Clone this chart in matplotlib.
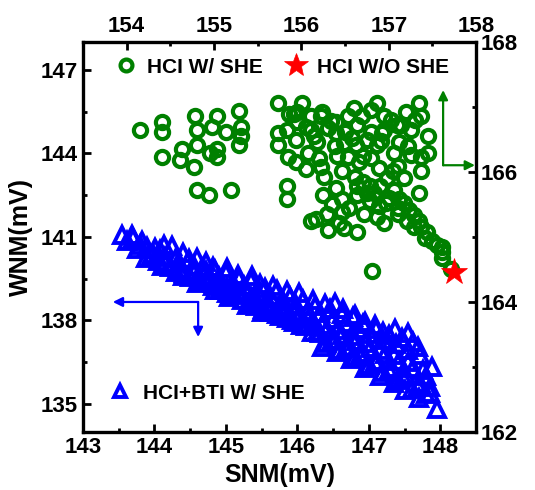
import matplotlib
matplotlib.use("Agg")
import matplotlib.pyplot as plt
from matplotlib.ticker import MultipleLocator
from matplotlib.lines import Line2D

plt.rcParams["font.family"] = ["Liberation Sans", "DejaVu Sans"]
plt.rcParams["font.weight"] = "bold"

# HCI + BTI with self-heating (bottom SNM axis / left WNM axis)
blue_snm = [
    143.55, 143.69, 143.82, 144.01, 144.13, 144.25, 144.40, 144.60, 144.72, 144.85,
    145.02, 145.17, 145.37, 145.48, 145.66, 145.86, 146.02, 146.22, 146.39, 146.53,
    146.64, 146.80, 146.95, 147.08, 147.20, 147.36, 147.54, 147.69,
    143.70, 143.90, 144.08, 144.30, 144.48, 144.66, 144.82, 145.00, 145.18, 145.35,
    145.55, 145.72, 145.90, 146.08, 146.25, 146.45, 146.62, 146.78, 146.92, 147.10,
    147.28, 147.46, 147.62,
    143.62, 143.80, 143.98, 144.15, 144.35, 144.55, 144.72, 144.90, 145.08, 145.25,
    145.45, 145.62, 145.80, 145.98, 146.15, 146.32, 146.50, 146.68, 146.85, 147.02,
    147.20, 147.38, 147.55, 147.72,
    143.75, 143.95, 144.15, 144.35, 144.55, 144.75, 144.95, 145.15, 145.35, 145.55,
    145.75, 145.95, 146.15, 146.35, 146.55, 146.75, 146.95, 147.15, 147.35, 147.55,
    147.75,
    143.88, 144.05, 144.22, 144.42, 144.62, 144.82, 145.02, 145.22, 145.42, 145.62,
    145.82, 146.02, 146.22, 146.42, 146.62, 146.82, 147.02, 147.22, 147.42, 147.62,
    147.80,
    144.10, 144.30, 144.50, 144.72, 144.92, 145.12, 145.32, 145.52, 145.72, 145.92,
    146.12, 146.32, 146.52, 146.72, 146.92, 147.12, 147.32, 147.52, 147.72,
    144.40, 144.62, 144.82, 145.02, 145.22, 145.42, 145.62, 145.85, 146.05, 146.28,
    146.48, 146.68, 146.88, 147.08, 147.28, 147.48, 147.68, 147.85,
    144.60, 144.85, 145.05, 145.30, 145.50, 145.75, 145.95, 146.20, 146.40, 146.60,
    146.80, 147.00, 147.20, 147.40, 147.60, 147.80, 147.95,
    146.35, 146.55, 146.75, 146.95, 147.15, 147.35, 147.50, 147.70, 147.85, 147.88,
]
blue_wnm = [
    141.07, 141.07, 140.85, 140.60, 140.72, 140.68, 140.42, 140.24, 140.10, 139.81,
    139.90, 139.63, 139.59, 139.30, 139.25, 139.05, 138.98, 138.72, 138.58, 138.62,
    138.40, 138.20, 137.96, 137.85, 137.60, 137.70, 137.53, 137.06,
    140.95, 140.62, 140.52, 140.25, 140.20, 139.88, 139.92, 139.70, 139.50, 139.42,
    139.15, 139.08, 138.85, 138.75, 138.50, 138.42, 138.22, 138.12, 137.88, 137.68,
    137.48, 137.35, 137.22,
    140.85, 140.70, 140.40, 140.28, 140.10, 139.95, 139.78, 139.55, 139.35, 139.25,
    139.00, 138.88, 138.70, 138.55, 138.35, 138.25, 138.05, 137.90, 137.70, 137.50,
    137.30, 137.15, 136.95, 136.75,
    140.55, 140.30, 140.05, 139.85, 139.70, 139.50, 139.25, 139.05, 138.85, 138.62,
    138.45, 138.25, 138.05, 137.85, 137.65, 137.45, 137.20, 136.95, 136.75, 136.50,
    136.20,
    140.25, 140.12, 139.92, 139.72, 139.60, 139.35, 139.18, 138.95, 138.75, 138.52,
    138.32, 138.12, 137.92, 137.70, 137.48, 137.25, 137.02, 136.80, 136.55, 136.30,
    136.00,
    139.95, 139.75, 139.55, 139.40, 139.10, 138.90, 138.65, 138.40, 138.22, 138.00,
    137.80, 137.55, 137.30, 137.05, 136.82, 136.55, 136.30, 136.05, 135.75,
    139.60, 139.45, 139.22, 139.00, 138.75, 138.50, 138.30, 138.08, 137.85, 137.58,
    137.30, 137.00, 136.75, 136.50, 136.22, 135.95, 135.65, 135.40,
    139.35, 139.10, 138.85, 138.55, 138.30, 138.15, 137.95, 137.60, 137.20, 136.95,
    136.70, 136.40, 136.15, 135.85, 135.55, 135.35, 134.80,
    137.05, 136.85, 136.60, 136.30, 136.00, 135.75, 135.50, 135.20, 135.60, 136.34,
]

# HCI with self-heating (top SNM axis / right WNM axis)
green_snm = [
    154.15, 154.40, 154.41, 154.78, 155.03, 155.29, 154.81, 154.98, 155.14, 155.31,
    155.31, 155.29, 154.40, 154.63, 154.61, 154.80, 154.95, 155.04, 155.04, 154.77,
    154.80, 154.94, 155.20,
    155.73, 156.01, 155.86, 155.73, 155.73, 155.85, 155.94, 155.84, 155.84, 155.95,
    156.11, 156.23, 156.11, 155.95, 155.94, 156.18, 156.24, 156.40, 156.40, 156.53,
    156.69, 156.86, 156.95, 156.80, 156.63, 156.86, 156.95, 157.12, 157.09, 157.26,
    157.35, 157.37, 157.26, 157.37, 157.37, 157.18, 157.35, 156.23, 156.26, 156.40,
    156.46, 156.64, 156.64, 156.78, 156.53, 156.66, 156.80, 156.89, 156.97, 156.86,
    156.72, 156.46, 156.43, 156.30, 156.17, 156.11, 156.64, 157.10, 157.21, 157.37,
    157.41, 157.61, 157.61, 156.81, 156.29, 156.49, 156.83, 157.10, 157.29, 157.71,
    155.84, 156.64, 156.34, 156.38, 156.49, 156.07, 156.41, 156.70, 156.47, 156.61,
    155.92, 157.10, 156.98, 156.70, 156.91, 157.06, 157.14,
    157.06, 157.12, 157.18, 157.23, 157.29, 157.35, 157.44, 157.49, 157.55, 157.61,
    156.78, 156.89,
    156.05, 156.15, 156.30, 156.50, 156.58, 156.75, 156.92, 157.02, 157.20, 157.22,
    157.05, 156.90, 156.75, 156.55, 156.35, 156.25, 156.60, 156.80, 157.30, 156.20,
    156.05, 157.45, 157.45, 157.00, 156.95,
]
green_wnm = [
    166.64, 166.77, 166.61, 166.87, 166.87, 166.94, 166.64, 166.69, 166.61, 166.69,
    166.56, 166.41, 166.23, 166.36, 166.18, 166.41, 166.29, 166.36, 166.23, 166.07,
    165.73, 165.65, 165.73,
    167.06, 167.06, 166.90, 166.60, 166.41, 166.23, 166.15, 165.79, 165.59, 166.92,
    166.87, 166.87, 166.64, 166.77, 166.49, 166.46, 166.92, 166.60, 166.77, 166.87,
    166.87, 167.06, 166.87, 166.61, 166.41, 166.41, 166.64, 166.46, 166.72, 166.64,
    167.06, 166.87, 166.26, 166.23, 166.02, 165.90, 165.67, 166.07, 165.92, 165.75,
    165.59, 165.79, 165.64, 165.79, 166.23, 166.15, 166.21, 166.06, 165.52, 165.30,
    165.36, 165.38, 165.21, 165.10, 165.28, 165.25, 165.07, 165.44, 165.25, 165.15,
    164.98, 164.84, 164.68, 164.48, 165.36, 165.13, 165.67, 165.36, 165.15, 164.51,
    166.64, 166.72, 166.78, 166.40, 166.44, 166.29, 166.24, 166.24, 166.02, 165.93,
    166.90, 166.09, 165.90, 165.85, 166.47, 166.29, 166.72,
    165.72, 165.59, 165.52, 165.41, 165.33, 165.25, 165.07, 164.94, 164.87, 164.76,
    165.56, 165.48,
    166.70, 166.55, 166.68, 166.62, 166.52, 166.50, 166.60, 166.80, 166.92, 166.40,
    166.02, 165.78, 165.68, 165.45, 165.50, 165.65, 166.98, 166.95, 166.80, 166.22,
    166.05, 166.30, 166.55, 165.60, 165.22,
]

# HCI without self-heating
star_snm = [157.75]
star_wnm = [164.46]

labels = ["HCI W/ SHE", "HCI W/O SHE", "HCI+BTI W/ SHE"]

GREEN = "#008000"
BLUE = "#0000FF"
RED = "#FF0000"

fig = plt.figure(figsize=(5.35, 4.9), dpi=100)
rect = [0.155, 0.119, 0.735, 0.795]
ax = fig.add_axes(rect)
ax2 = fig.add_axes(rect, frameon=False)
ax2.patch.set_visible(False)

circle_kw = dict(ls="none", marker="o", ms=9.5, mfc="none", mec=GREEN, mew=3.0)
tri_kw = dict(ls="none", marker="^", ms=11, mfc="none", mec=BLUE, mew=2.8)
star_kw = dict(ls="none", marker="*", ms=20, mfc=RED, mec=RED, mew=0.5)

ax.plot(blue_snm, blue_wnm, **tri_kw)
ax2.plot(green_snm, green_wnm, **circle_kw)
ax2.plot(star_snm, star_wnm, **star_kw)

# bottom / left scales
ax.set_xlim(143, 148.5)
ax.set_ylim(134, 148)
ax.xaxis.set_major_locator(MultipleLocator(1))
ax.xaxis.set_minor_locator(MultipleLocator(0.5))
ax.set_yticks([135, 138, 141, 144, 147])
ax.yaxis.set_minor_locator(MultipleLocator(1.5))
ax.tick_params(which="both", direction="in", top=False, right=False, width=2)
ax.tick_params(which="major", length=6, labelsize=16)
ax.tick_params(which="minor", length=3)
for s in ax.spines.values():
    s.set_linewidth(2.4)

# top / right scales
ax2.set_xlim(153.5, 158)
ax2.set_ylim(162, 168)
ax2.xaxis.tick_top()
ax2.yaxis.tick_right()
ax2.xaxis.set_major_locator(MultipleLocator(1))
ax2.xaxis.set_minor_locator(MultipleLocator(0.5))
ax2.yaxis.set_major_locator(MultipleLocator(2))
ax2.yaxis.set_minor_locator(MultipleLocator(1))
ax2.tick_params(which="both", direction="in", bottom=False, left=False,
                top=True, right=True, width=2)
ax2.tick_params(which="major", length=6, labelsize=16)
ax2.tick_params(which="minor", length=3)

for t in ax.get_xticklabels() + ax.get_yticklabels() + ax2.get_xticklabels() + ax2.get_yticklabels():
    t.set_fontweight("bold")

ax.set_xlabel("SNM(mV)", fontsize=18, fontweight="bold", labelpad=4)
ax.set_ylabel("WNM(mV)", fontsize=18, fontweight="bold", labelpad=6)

# legends
h_green = Line2D([], [], **circle_kw)
h_star = Line2D([], [], **star_kw)
h_blue = Line2D([], [], **tri_kw)
leg1 = ax2.legend([h_green, h_star], labels[:2], loc="center",
                  bbox_to_anchor=(0.505, 0.936), ncol=2, frameon=False,
                  prop=dict(size=15, weight="bold"), handletextpad=0.4,
                  columnspacing=1.0, handlelength=1.2, markerscale=0.9)
ax2.add_artist(leg1)
ax2.legend([h_blue], labels[2:], loc="center left", bbox_to_anchor=(0.015, 0.099),
           frameon=False, prop=dict(size=15, weight="bold"),
           handletextpad=0.5, handlelength=1.2, markerscale=0.8)

# axis-direction arrows
arrow_g = dict(arrowstyle="-|>", color=GREEN, lw=1.6, mutation_scale=14, shrinkA=0, shrinkB=0)
arrow_b = dict(arrowstyle="-|>", color=BLUE, lw=1.6, mutation_scale=14, shrinkA=0, shrinkB=0)
ax2.annotate("", xy=(0.916, 0.877), xytext=(0.916, 0.684), xycoords="axes fraction",
             arrowprops=arrow_g)
ax2.annotate("", xy=(0.997, 0.684), xytext=(0.916, 0.684), xycoords="axes fraction",
             arrowprops=arrow_g)
ax2.annotate("", xy=(0.076, 0.333), xytext=(0.293, 0.333), xycoords="axes fraction",
             arrowprops=arrow_b)
ax2.annotate("", xy=(0.293, 0.243), xytext=(0.293, 0.333), xycoords="axes fraction",
             arrowprops=arrow_b)

fig.savefig("out.png", dpi=100)
